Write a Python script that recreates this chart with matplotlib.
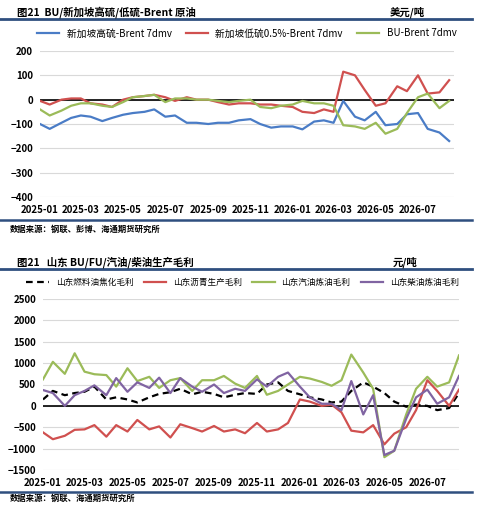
import matplotlib
matplotlib.use("Agg")
import matplotlib.pyplot as plt
import matplotlib.dates as mdates
from matplotlib.lines import Line2D
import pandas as pd

plt.rcParams['font.family'] = ['Noto Sans CJK SC', 'DejaVu Sans']

dates = pd.date_range("2025-01-01", "2026-08-15", freq="SMS")

hs_brent = [-100,-120,-95,-75,-65,-70,-88,-75,-62,-55,
            -50,-40,-70,-65,-95,-95,-100,-95,-95,-85,
            -80,-100,-115,-110,-110,-122,-90,-85,-95,-5,
            -70,-85,-50,-105,-100,-60,-55,-120,-135,-170]
ls_brent = [-5,-20,0,5,5,-15,-20,-30,0,10,
            15,20,10,-5,10,0,0,-10,-20,-15,
            -15,-20,-20,-25,-30,-50,-55,-40,-50,115,
            100,40,-25,-15,55,35,100,25,30,80]
bu_brent = [-40,-65,-45,-25,-15,-15,-25,-30,-10,10,
            15,20,-10,5,5,0,0,-5,-10,-5,
            0,-30,-35,-25,-20,-5,-15,-15,-25,-105,
            -110,-120,-95,-140,-120,-55,10,25,-35,-5]

fo_coking = [150,350,250,300,330,450,150,200,150,80,
             200,280,320,400,270,330,280,200,260,300,
             280,500,550,350,270,200,150,80,100,350,
             550,450,300,100,-20,30,0,-100,-50,300]
bitumen = [-620,-780,-700,-560,-550,-450,-720,-450,-600,-330,
           -550,-480,-740,-430,-520,-600,-470,-600,-550,-640,
           -400,-600,-550,-400,150,100,0,30,-150,-580,
           -620,-450,-900,-650,-500,-100,600,350,0,380]
gasoline = [620,1030,750,1230,800,740,720,450,880,580,
            680,420,600,650,350,600,600,700,520,420,
            700,260,350,500,680,640,560,470,600,1200,
            780,400,-1200,-1050,-200,400,680,450,550,1180]
diesel = [370,300,0,250,350,480,250,650,330,550,
          420,660,300,650,450,330,500,300,400,350,
          620,450,680,780,450,200,50,50,-100,580,
          -200,250,-1150,-1050,-300,200,380,50,200,700]

W, H = 482, 517
fig = plt.figure(figsize=(W/100, H/100), dpi=100)
navy = '#2f4f7f'

def px_axes(l, t, r, b):
    return fig.add_axes([l/W, 1-b/H, (r-l)/W, (b-t)/H])

def hline(y, lw=2):
    fig.add_artist(Line2D([0, 472/W], [1-y/H, 1-y/H], color=navy, lw=lw))

def style(ax, ylim, yticks, xlim):
    ax.set_ylim(*ylim)
    ax.set_yticks(yticks)
    ax.set_xlim(pd.Timestamp(xlim[0]), pd.Timestamp(xlim[1]))
    ax.xaxis.set_major_locator(mdates.MonthLocator(bymonth=[1,3,5,7,9,11]))
    ax.xaxis.set_major_formatter(mdates.DateFormatter('%Y-%m'))
    for s in ax.spines.values():
        s.set_visible(False)
    ax.grid(axis='y', color='#d9d9d9', lw=0.8)
    ax.set_axisbelow(True)
    ax.tick_params(axis='y', length=0, labelsize=7, pad=5)
    ax.tick_params(axis='x', length=0, labelsize=7, pad=6)
    for lab in ax.get_xticklabels() + ax.get_yticklabels():
        lab.set_fontweight('bold')
    ax.axhline(0, color='black', lw=1.2, zorder=1)

# Top panel
fig.text(17/W, 1-12/H, "图21  BU/新加坡高硫/低硫-Brent 原油", fontsize=7.5, fontweight='bold', va='center')
fig.text(390/W, 1-12/H, "美元/吨", fontsize=7.5, fontweight='bold', va='center')
hline(19)
ax1 = px_axes(40, 51, 454, 197)
ax1.plot(dates, hs_brent, color='#4a7cc6', lw=1.6, label='新加坡高硫-Brent 7dmv')
ax1.plot(dates, ls_brent, color='#d0504f', lw=1.6, label='新加坡低硫0.5%-Brent 7dmv')
ax1.plot(dates, bu_brent, color='#9bbb59', lw=1.6, label='BU-Brent 7dmv')
style(ax1, (-400, 200), range(-400, 201, 100), ("2025-01-01", "2026-08-22"))
ax1.legend(loc='center', bbox_to_anchor=(0.5, 1.12), ncol=3, frameon=False,
           fontsize=7, handlelength=2.2, columnspacing=1.5, borderaxespad=0)
hline(220, 1.8)
fig.text(10/W, 1-229/H, "数据来源：钢联、彭博、海通期货研究所", fontsize=6, fontweight='bold', va='center')

# Bottom panel
fig.text(17/W, 1-262/H, "图21   山东 BU/FU/汽油/柴油生产毛利", fontsize=7.5, fontweight='bold', va='center')
fig.text(393/W, 1-262/H, "元/吨", fontsize=7.5, fontweight='bold', va='center')
hline(269)
ax2 = px_axes(43, 299, 459, 470)
ax2.plot(dates, fo_coking, color='black', lw=1.6, ls=(0, (3, 2)), label='山东燃料油焦化毛利')
ax2.plot(dates, bitumen, color='#d0504f', lw=1.6, label='山东沥青生产毛利')
ax2.plot(dates, gasoline, color='#9bbb59', lw=1.6, label='山东汽油炼油毛利')
ax2.plot(dates, diesel, color='#8064a2', lw=1.6, label='山东柴油炼油毛利')
style(ax2, (-1500, 2500), range(-1500, 2501, 500), ("2025-01-01", "2026-08-15"))
ax2.legend(loc='center', bbox_to_anchor=(0.48, 1.095), ncol=4, frameon=False,
           fontsize=6.2, handlelength=2.6, columnspacing=1.2, borderaxespad=0)
hline(492, 1.8)
fig.text(10/W, 1-498/H, "数据来源：钢联、海通期货研究所", fontsize=6, fontweight='bold', va='center')

fig.savefig("out.png", dpi=100)
